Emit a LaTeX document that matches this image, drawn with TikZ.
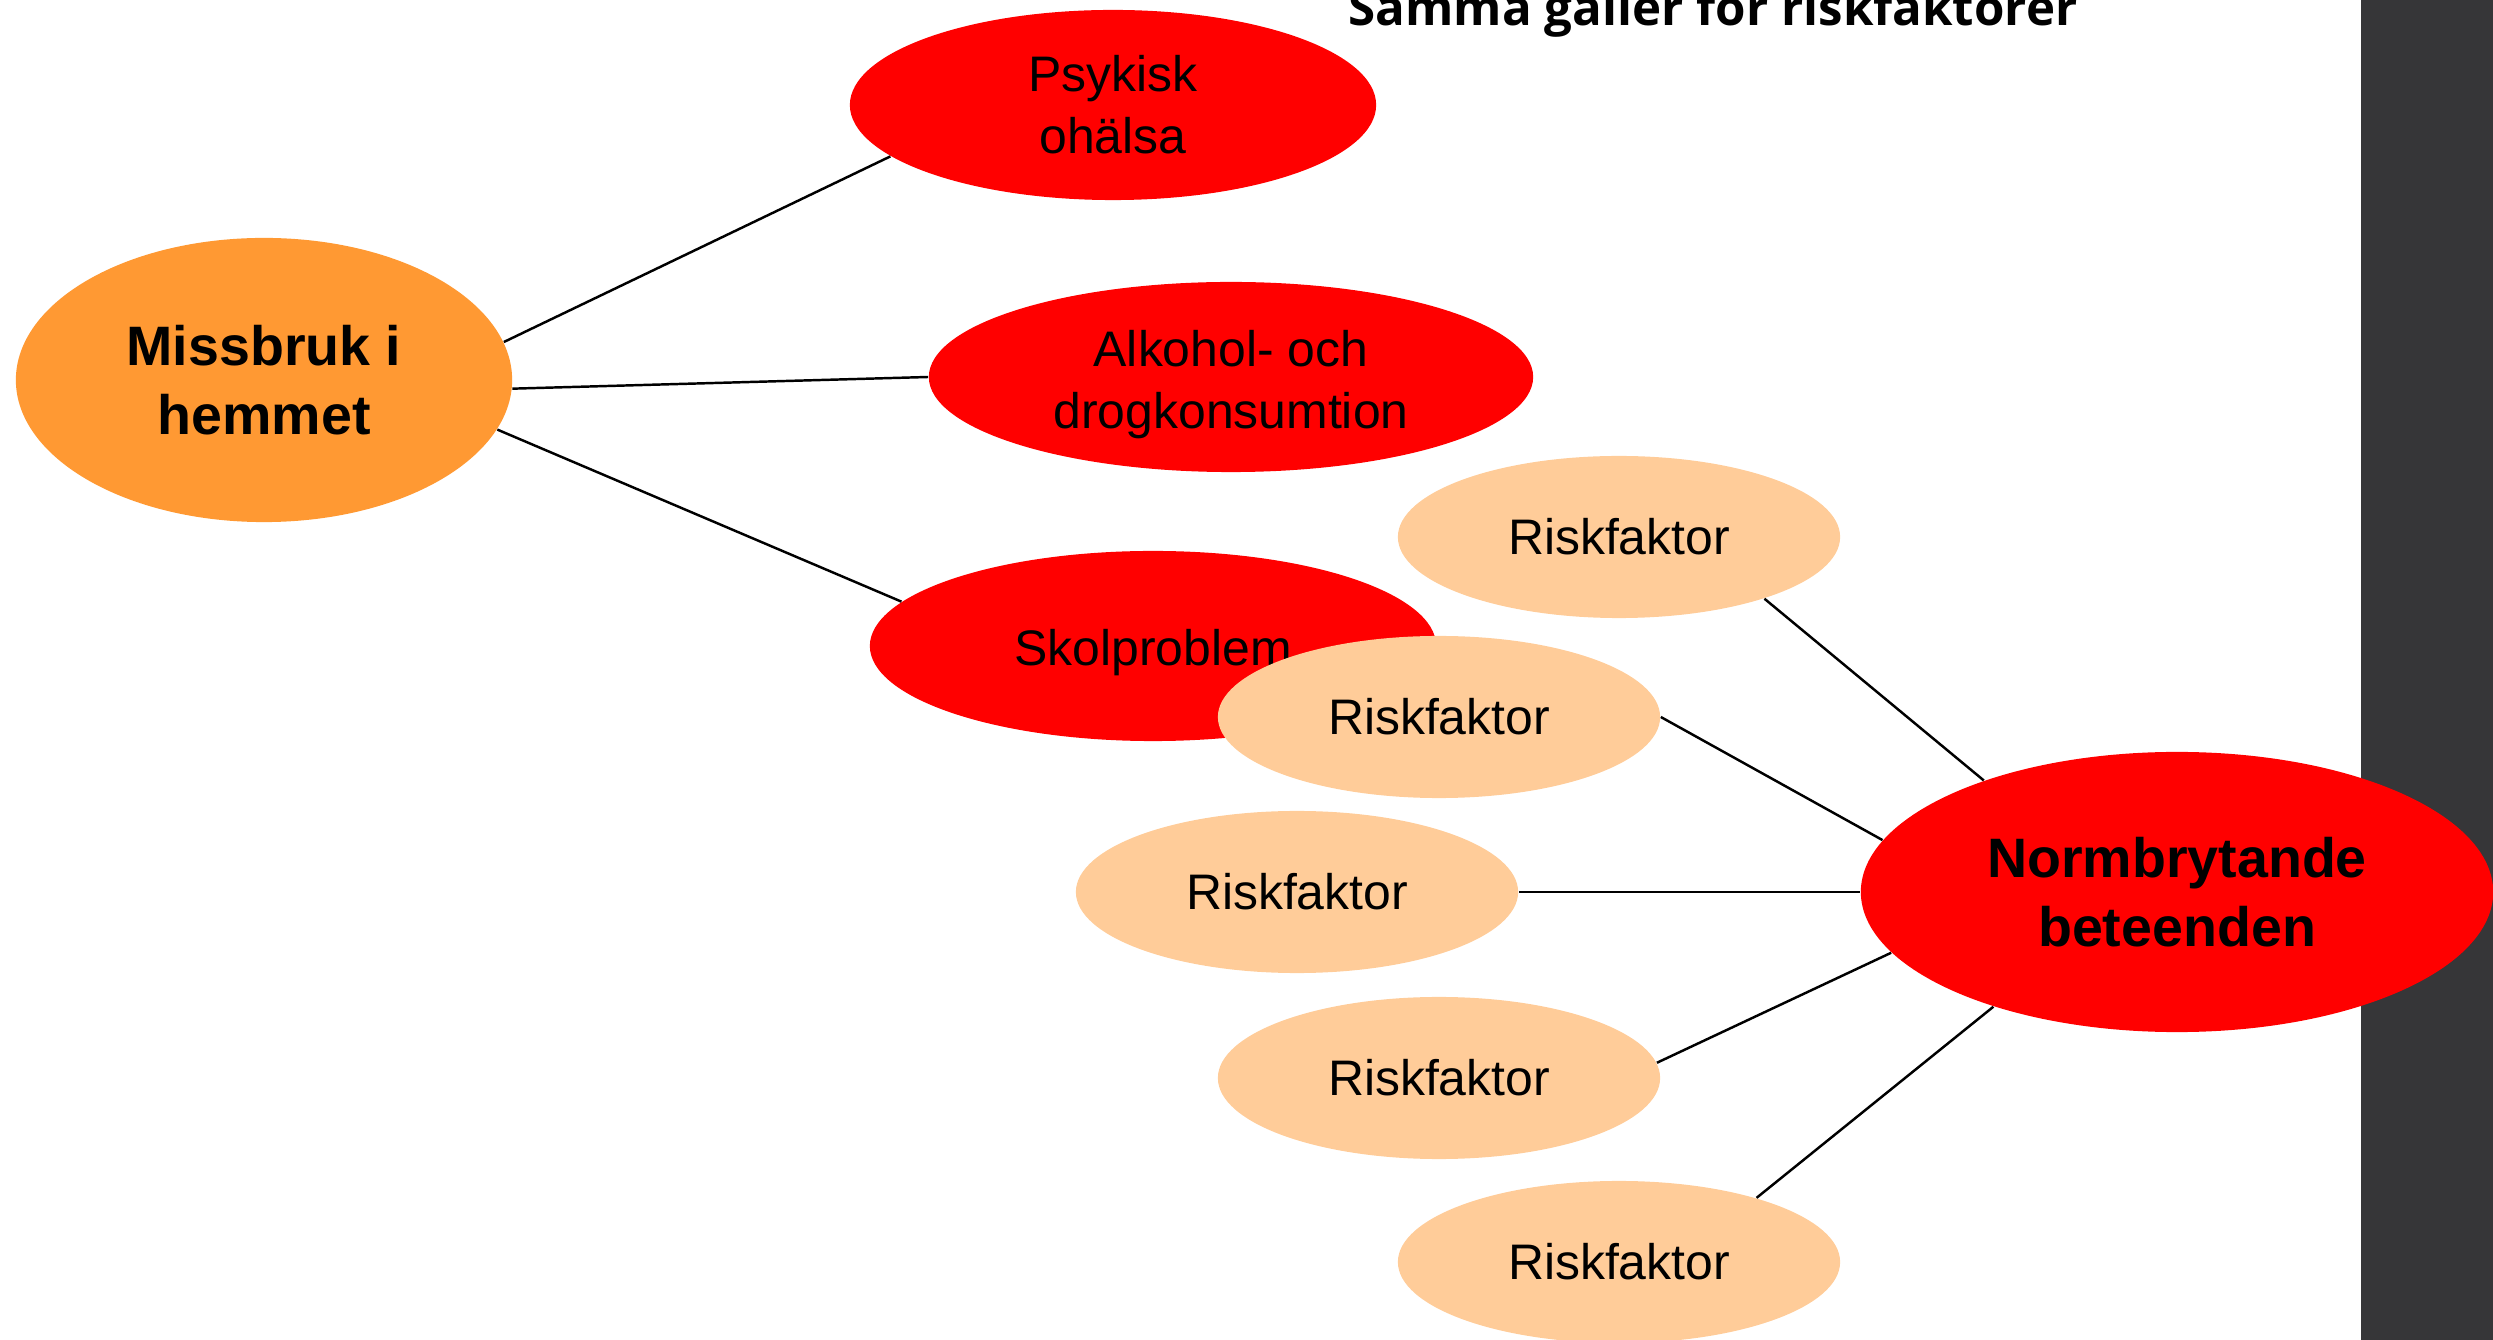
\documentclass[tikz,border=0pt]{standalone}
\usepackage{fontspec}
\setmainfont{Liberation Sans}
\newfontfamily\titlefont{Open Sans}
\usetikzlibrary{shapes.geometric}
\definecolor{barfill}{HTML}{363638}
\definecolor{redfill}{HTML}{FF0000}
\definecolor{orangefill}{HTML}{FF9933}
\definecolor{peachfill}{HTML}{FFCC99}
\begin{document}
\begin{tikzpicture}[x=0.01cm,y=-0.01cm,
  blob/.style={ellipse,inner sep=0pt,align=center,
    font=\fontsize{14.2}{17.6}\selectfont},
  keyblob/.style={blob,font=\fontsize{15.8}{19.5}\selectfont\bfseries},
  riskblob/.style={blob,fill=peachfill,minimum width=4.42cm,minimum height=1.62cm},
  link/.style={draw=black,line width=0.7pt}]
\useasboundingbox (0,0) rectangle (2493,1340);
% dark band on the right
\fill[barfill] (2361,0) rectangle (2493,1340);
% heading, running off the top edge
\node[anchor=base west,inner sep=0pt,font=\titlefont\bfseries\fontsize{14}{17}\selectfont]
  (title) at (1348,26) {Samma gäller för riskfaktorer};
% left cluster
\node[keyblob,fill=orangefill,minimum width=4.96cm,minimum height=2.84cm] (miss) at (264,380) {Missbruk i\\hemmet};
\node[blob,fill=redfill,minimum width=5.26cm,minimum height=1.9cm] (psyk) at (1113,105) {Psykisk\\ohälsa};
% text box sized so the two lines sit a little below the centre
\node[blob,fill=redfill,minimum width=6.04cm,minimum height=1.9cm,
  text height=1.12cm,text depth=0.1cm] (alk) at (1231,377) {Alkohol- och\\drogkonsumtion};
\node[blob,fill=redfill,minimum width=5.66cm,minimum height=1.9cm,
  text height=0.42cm,text depth=0.04cm] (skol) at (1153,646) {Skolproblem};
\draw[link] (miss.9.5) -- (psyk.193);
\draw[link] (miss.-2) -- (alk.180);
\draw[link] (miss.-12.4) -- (skol.170);
% right cluster
\node[riskblob] (r1) at (1619,537) {Riskfaktor};
\node[riskblob] (r2) at (1439,717) {Riskfaktor};
\node[riskblob] (r3) at (1297,892) {Riskfaktor};
\node[riskblob] (r4) at (1439,1078) {Riskfaktor};
\node[riskblob] (r5) at (1619,1262) {Riskfaktor};
\node[keyblob,fill=redfill,minimum width=6.32cm,minimum height=2.8cm] (norm) at (2177,892) {Normbrytande\\beteenden};
\draw[link] (r1.-23.8) -- (norm.150);
\draw[link] (r2.0) -- (norm.170);
\draw[link] (r3.0) -- (norm.180);
\draw[link] (r4.4.5) -- (norm.192.4);
\draw[link] (r5.25.8) -- (norm.212);
\end{tikzpicture}
\end{document}
